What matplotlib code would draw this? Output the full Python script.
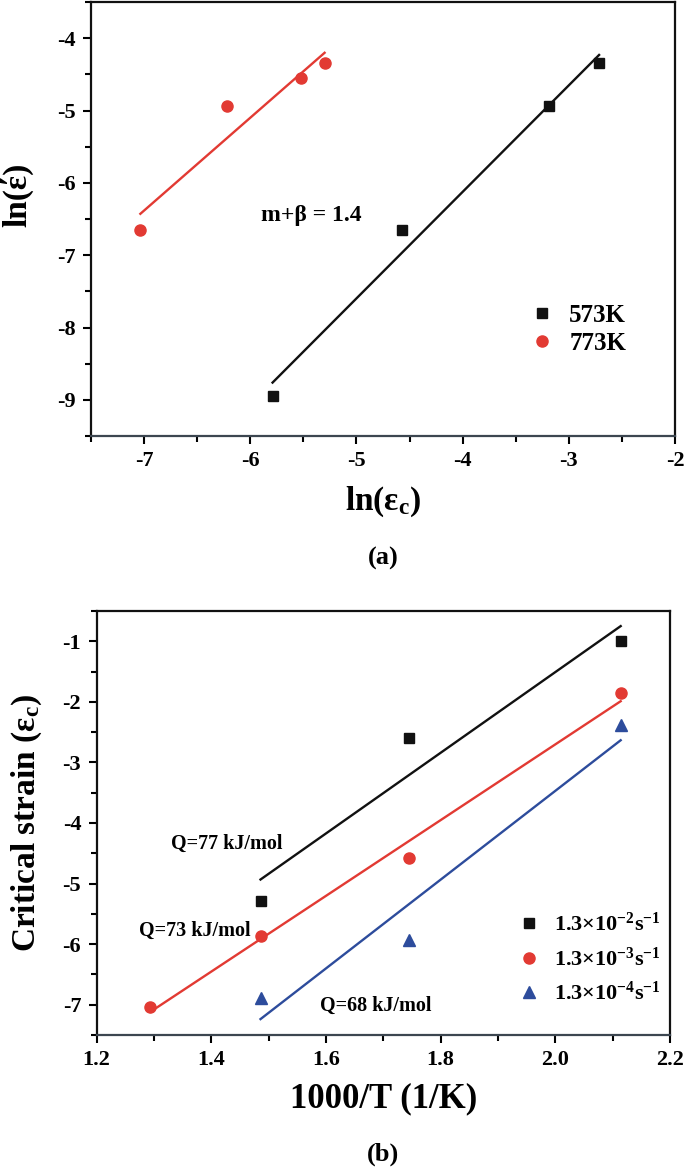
import numpy as np
import matplotlib
matplotlib.use("Agg")
import matplotlib.pyplot as plt
from matplotlib.ticker import MultipleLocator

plt.rcParams['font.family'] = ['Liberation Serif', 'DejaVu Serif']
plt.rcParams['font.weight'] = 'bold'
plt.rcParams['axes.unicode_minus'] = False
plt.rcParams['mathtext.fontset'] = 'custom'
plt.rcParams['mathtext.rm'] = 'Liberation Serif:bold'
plt.rcParams['mathtext.it'] = 'Liberation Serif:bold:italic'
plt.rcParams['mathtext.bf'] = 'Liberation Serif:bold'

# ---- panel (a) data ----
a_573_x = [-5.79, -4.57, -3.19, -2.715]
a_573_y = [-8.95, -6.65, -4.94, -4.35]
a_773_x = [-7.035, -6.217, -5.52, -5.30]
a_773_y = [-6.65, -4.943, -4.55, -4.35]
a_labels = ['573K', '773K']
a_xticks = [-7, -6, -5, -4, -3, -2]
a_yticks = [-4, -5, -6, -7, -8, -9]

# ---- panel (b) data ----
b_x_hi = [1.486, 1.745, 2.114]
b_y_hi = [-5.29, -2.60, -1.00]
b_x_mid = [1.294, 1.486, 1.745, 2.114]
b_y_mid = [-7.03, -5.87, -4.57, -1.85]
b_x_lo = [1.486, 1.745, 2.114]
b_y_lo = [-6.89, -5.93, -2.39]
b_labels = [r'1.3$\mathregular{{\times}10^{-2}s^{-1}}$',
            r'1.3$\mathregular{{\times}10^{-3}s^{-1}}$',
            r'1.3$\mathregular{{\times}10^{-4}s^{-1}}$']
b_xticks = [1.2, 1.4, 1.6, 1.8, 2.0, 2.2]
b_yticks = [-1, -2, -3, -4, -5, -6, -7]

RED = '#e23a33'
BLUE = '#2d4c9c'
BLACK = '#111111'

W, H = 685, 1170
fig = plt.figure(figsize=(W / 100, H / 100), dpi=100)

def style_axes(ax, xt, yt, xfmt):
    for s in ax.spines.values():
        s.set_linewidth(1.6)
        s.set_color('#111111')
    ax.spines['bottom'].set_color('#3c4650')
    ax.set_xticks(xt)
    ax.set_xticklabels([xfmt % v for v in xt], fontsize=16, fontweight='bold')
    ax.set_yticks(yt)
    ax.set_yticklabels(['%d' % v for v in yt], fontsize=16, fontweight='bold')
    ax.tick_params(which='both', direction='out', width=1.5,
                   top=False, right=False)
    ax.tick_params(which='major', length=6, pad=5)
    ax.tick_params(which='minor', length=4)

def fit_line(ax, xs, ys, color):
    p = np.polyfit(xs, ys, 1)
    xx = np.array([min(xs), max(xs)])
    ax.plot(xx, np.polyval(p, xx), color=color, lw=1.7, zorder=2)

# ---------------- panel (a) ----------------
axa = fig.add_axes([91 / W, 1 - 436 / H, 584 / W, 434 / H])
fit_line(axa, a_573_x, a_573_y, BLACK)
fit_line(axa, a_773_x, a_773_y, RED)
axa.plot(a_573_x, a_573_y, 's', color=BLACK, ms=7, ls='none', zorder=3, label=a_labels[0])
axa.plot(a_773_x, a_773_y, 'o', color=RED, ms=8, ls='none', zorder=3, label=a_labels[1])
axa.set_xlim(-7.5, -2)
axa.set_ylim(-9.5, -3.5)
style_axes(axa, a_xticks, a_yticks, '%d')
axa.xaxis.set_minor_locator(MultipleLocator(0.5))
axa.yaxis.set_minor_locator(MultipleLocator(0.5))
axa.set_xlabel(r'ln(ε$_\mathregular{c}$)', fontsize=24, fontweight='bold')
axa.xaxis.set_label_coords(0.5, -0.112)
axa.set_ylabel('ln(έ)', fontsize=24, fontweight='bold')
axa.yaxis.set_label_coords(-0.098, 0.555)
axa.text(-5.90, -6.45, 'm+β = 1.4', fontsize=17, fontweight='bold', va='center', ha='left')
axa.legend(loc='upper left', bbox_to_anchor=(0.712, 0.357), frameon=False,
           handlelength=1.0, handletextpad=0.6, labelspacing=0.22,
           prop={'weight': 'bold', 'size': 18})

fig.text(0.5 * (91 + 675) / W, 1 - 558 / H, '(a)', fontsize=19, fontweight='bold',
         ha='center', va='center')

# ---------------- panel (b) ----------------
axb = fig.add_axes([96.5 / W, 1 - 1035 / H, 573.5 / W, 424 / H])
fit_line(axb, b_x_hi, b_y_hi, BLACK)
fit_line(axb, b_x_mid, b_y_mid, RED)
fit_line(axb, b_x_lo, b_y_lo, BLUE)
axb.plot(b_x_hi, b_y_hi, 's', color=BLACK, ms=7, ls='none', zorder=3, label=b_labels[0])
axb.plot(b_x_mid, b_y_mid, 'o', color=RED, ms=8, ls='none', zorder=3, label=b_labels[1])
axb.plot(b_x_lo, b_y_lo, '^', color=BLUE, ms=8, ls='none', zorder=3, label=b_labels[2])
axb.set_xlim(1.2, 2.2)
axb.set_ylim(-7.5, -0.5)
style_axes(axb, b_xticks, b_yticks, '%.1f')
axb.xaxis.set_minor_locator(MultipleLocator(0.1))
axb.yaxis.set_minor_locator(MultipleLocator(0.5))
axb.set_xlabel('1000/T (1/K)', fontsize=25, fontweight='bold')
axb.xaxis.set_label_coords(0.5, -0.112)
axb.set_ylabel(r'Critical strain (ε$_\mathregular{c}$)', fontsize=24, fontweight='bold')
axb.yaxis.set_label_coords(-0.092, 0.5)
axb.text(1.33, -4.35, 'Q=77 kJ/mol', fontsize=14.5, fontweight='bold', va='center', ha='left')
axb.text(1.2735, -5.78, 'Q=73 kJ/mol', fontsize=14.5, fontweight='bold', va='center', ha='left')
axb.text(1.5895, -7.02, 'Q=68 kJ/mol', fontsize=14.5, fontweight='bold', va='center', ha='left')
axb.legend(loc='upper left', bbox_to_anchor=(0.70, 0.335), frameon=False,
           handlelength=1.0, handletextpad=0.6, labelspacing=0.5,
           prop={'weight': 'bold', 'size': 16})

fig.text(0.5 * (96.5 + 670) / W, 1 - 1154 / H, '(b)', fontsize=19, fontweight='bold',
         ha='center', va='center')

fig.savefig('out.png', dpi=100)
